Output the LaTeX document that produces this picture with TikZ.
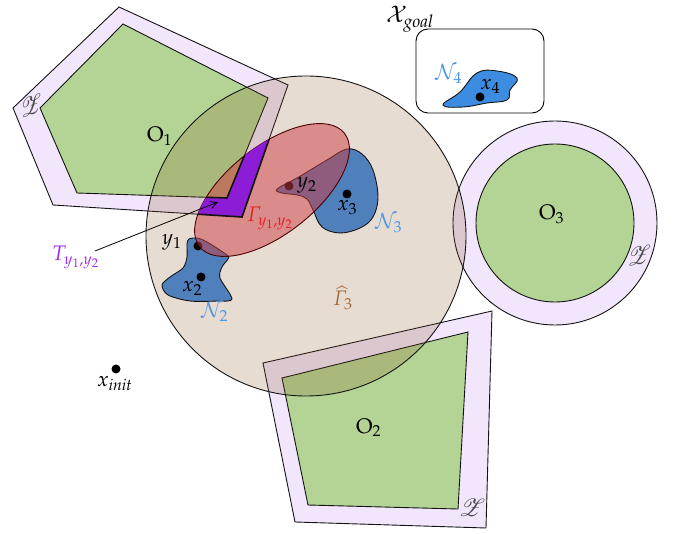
\documentclass[tikz,border=0pt]{standalone}
\usepackage[slantedGreek]{mathpazo}
\usepackage{mathrsfs}
\usetikzlibrary{arrows.meta}
\definecolor{lav}{RGB}{242,230,252}
\definecolor{grn}{RGB}{179,212,148}
\definecolor{brn}{RGB}{130,80,30}
\definecolor{redell}{RGB}{205,60,66}
\definecolor{blob}{RGB}{80,128,188}
\definecolor{blobfour}{RGB}{60,140,225}
\definecolor{nlab}{RGB}{80,150,230}
\definecolor{purp}{RGB}{140,28,214}
\definecolor{tlab}{RGB}{160,40,240}
\definecolor{glab}{RGB}{225,30,40}
\definecolor{hlab}{RGB}{165,105,55}
\definecolor{edge}{RGB}{20,20,20}
\begin{document}
\begin{tikzpicture}[x=1pt,y=-1pt,
  lbl/.style={inner sep=0pt, anchor=base west, font=\fontsize{21}{25}\selectfont},
  zlbl/.style={inner sep=0pt, text=black!70, font=\fontsize{26}{30}\selectfont},
  dotc/.style={fill=black, draw=none},
  obst/.style={draw=edge, line width=0.9pt},
  blobst/.style={draw=edge, line width=0.9pt}]
\useasboundingbox (0,0) rectangle (677,534);
\def\outerpent{(119,7) -- (288,85) -- (242,217) -- (53,205) -- (13,108) -- cycle}
\def\innerpent{(123,24) -- (268,98) -- (227,198) -- (77,193) -- (40,108) -- cycle}
\def\ellpath{[rotate around={38:(272,190)}] (272,190) ellipse [x radius=92pt, y radius=44pt]}
% obstacle O1
\path[obst, fill=lav] \outerpent;
\path[obst, fill=grn] \innerpent;
% obstacle O3
\path[obst, fill=lav] (555,223) circle [radius=102pt];
\path[obst, fill=grn] (555,223) circle [radius=79pt];
% obstacle O2
\path[obst, fill=lav] (263,363) -- (492,311) -- (486,528) -- (295,522) -- cycle;
\path[obst, fill=grn] (282,378) -- (468,332) -- (458,509) -- (308,505) -- cycle;
% big circle
\path[fill=brn, fill opacity=0.2, draw=edge, line width=0.9pt] (306,236) circle [radius=160pt];
% goal region
\draw[line width=0.9pt, rounded corners=12pt] (416,29) rectangle (544,113);
\path[blobst, fill=blobfour] plot[smooth cycle, tension=0.7] coordinates {(443,105) (460,92) (477,73) (497,71) (517,78) (510,90) (507,100) (487,103) (463,107)};
% neighbourhoods
\path[blobst, fill=blob] plot[smooth cycle, tension=0.6] coordinates {(277,189) (297,178) (327,160) (347,149) (362,154) (373,170) (378,197) (373,217) (360,228) (340,233) (322,227) (313,210) (307,199) (297,195) (282,193)};
\path[blobst, fill=blob] plot[smooth cycle, tension=0.5] coordinates {(189,239) (197,238) (207,242) (227,255) (228,259) (222,267) (220,278) (232,299) (217,301) (190,301) (168,295) (162,285) (170,277) (183,268) (187,257) (187,244)};
% dots under the ellipse
\path[dotc] (289,186) circle [radius=4.5pt];
\path[dotc] (198,246) circle [radius=4.5pt];
% ellipse Gamma
\path[fill=redell, fill opacity=0.5, draw=black!70!red, line width=0.9pt] \ellpath;
% T region
\begin{scope}
  \clip \ellpath;
  \path[fill=purp, even odd rule] \outerpent \innerpent;
  \draw[line width=1.6pt, edge] \outerpent;
  \draw[line width=1.6pt, edge] \innerpent;
\end{scope}
% other dots
\path[dotc] (480,97) circle [radius=4.5pt];
\path[dotc] (347,194) circle [radius=4.5pt];
\path[dotc] (201,277) circle [radius=4.5pt];
\path[dotc] (116,369) circle [radius=4.5pt];
% labels
\node[lbl] (o1) at (147,142) {$\mathrm{O}_1$};
\node[lbl] (o2) at (356,433) {$\mathrm{O}_2$};
\node[lbl] (o3) at (539,220) {$\mathrm{O}_3$};
\node[lbl, font=\fontsize{23}{26}\selectfont] (xg) at (386,23) {$\mathcal{X}_{\mathit{goal}}$};
\node[lbl, text=nlab] (n4) at (435,80) {$\mathcal{N}_4$};
\node[lbl] (x4) at (480,90) {$x_4$};
\node[lbl] (y2) at (297,188) {$y_2$};
\node[lbl] (x3) at (337,211) {$x_3$};
\node[lbl, text=nlab] (n3) at (375,229) {$\mathcal{N}_3$};
\node[lbl] (y1) at (162,245) {$y_1$};
\node[lbl] (x2) at (182,292) {$x_2$};
\node[lbl, text=nlab] (n2) at (201,318) {$\mathcal{N}_2$};
\node[lbl, text=glab] (gam) at (247,222) {$\Gamma_{y_1,y_2}$};
\node[lbl, text=hlab] (gh) at (333,306) {$\widehat{\Gamma}_3$};
\node[lbl, text=tlab] (tl) at (52,261) {$T_{y_1,y_2}$};
\node[lbl] (xi) at (97,386) {$x_{\mathit{init}}$};
\node[zlbl, rotate=20] (z1) at (31,106) {$\mathscr{Z}$};
\node[zlbl, rotate=10] (z3) at (639,256) {$\mathscr{Z}$};
\node[zlbl] (z2) at (472,508) {$\mathscr{Z}$};
% arrow for T
\coordinate (tstart) at (95,251);
\coordinate (ttip) at (218,202);
\draw[line width=0.8pt, -{Straight Barb[length=7pt,width=7pt]}] (tstart) -- (ttip);
\end{tikzpicture}
\end{document}
